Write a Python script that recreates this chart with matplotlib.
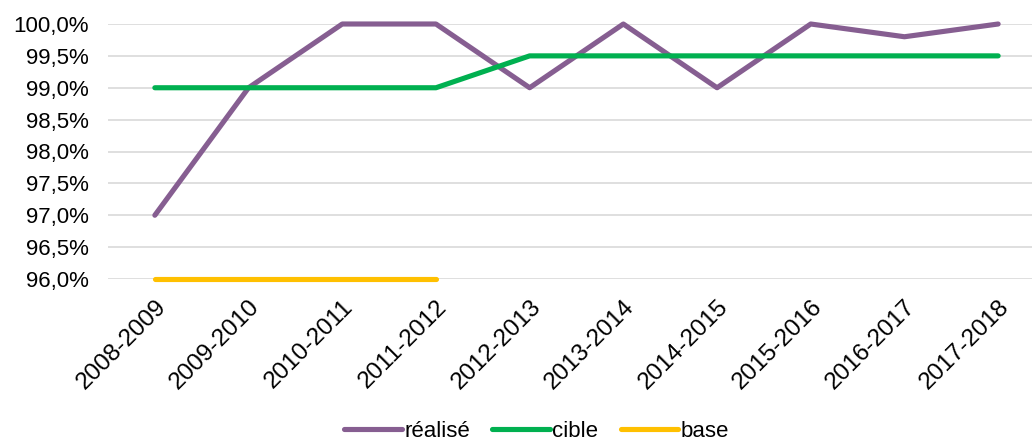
import matplotlib
matplotlib.use("Agg")
import matplotlib.pyplot as plt
from matplotlib.ticker import FuncFormatter

plt.rcParams['font.family'] = ['Liberation Sans', 'DejaVu Sans']

years = ['2008-2009', '2009-2010', '2010-2011', '2011-2012', '2012-2013',
         '2013-2014', '2014-2015', '2015-2016', '2016-2017', '2017-2018']
realise = [97.0, 99.0, 100.0, 100.0, 99.0, 100.0, 99.0, 100.0, 99.8, 100.0]
cible = [99.0, 99.0, 99.0, 99.0, 99.5, 99.5, 99.5, 99.5, 99.5, 99.5]
base = [96.0, 96.0, 96.0, 96.0]

fig = plt.figure(figsize=(10.32, 4.46), dpi=100)
ax = fig.add_axes([108 / 1032, 1 - 279 / 446, 937 / 1032, 255 / 446])

x = list(range(len(years)))
kw = dict(lw=3.7, solid_capstyle='round', clip_on=False)
ax.plot(x, realise, color='#865E91', label='réalisé', **kw)
ax.plot(x, cible, color='#00B050', label='cible', **kw)
ax.plot(x[:len(base)], base, color='#FFC000', label='base', **kw)

ax.set_xlim(-0.5, len(years) - 0.5)
ax.set_ylim(96, 100)
ax.set_yticks([96 + 0.5 * i for i in range(9)])
ax.yaxis.set_major_formatter(FuncFormatter(lambda v, p: f"{v:.1f}%".replace('.', ',')))
ax.set_xticks(x)
ax.set_xticklabels(years, rotation=45, ha='right', rotation_mode='anchor')
ax.tick_params(axis='both', length=0, colors='black')
ax.tick_params(axis='y', labelsize=16, pad=14)
ax.tick_params(axis='x', labelsize=17.5, pad=12)
ax.grid(axis='y', color='#D9D9D9', lw=1.2)
ax.set_axisbelow(True)
for s in ax.spines.values():
    s.set_visible(False)

fig.legend(loc='lower center', bbox_to_anchor=(0.52, -0.035), ncol=3, frameon=False,
           fontsize=16, handlelength=2.6, handletextpad=0.1, columnspacing=1.0)

fig.savefig('out.png', dpi=100)
